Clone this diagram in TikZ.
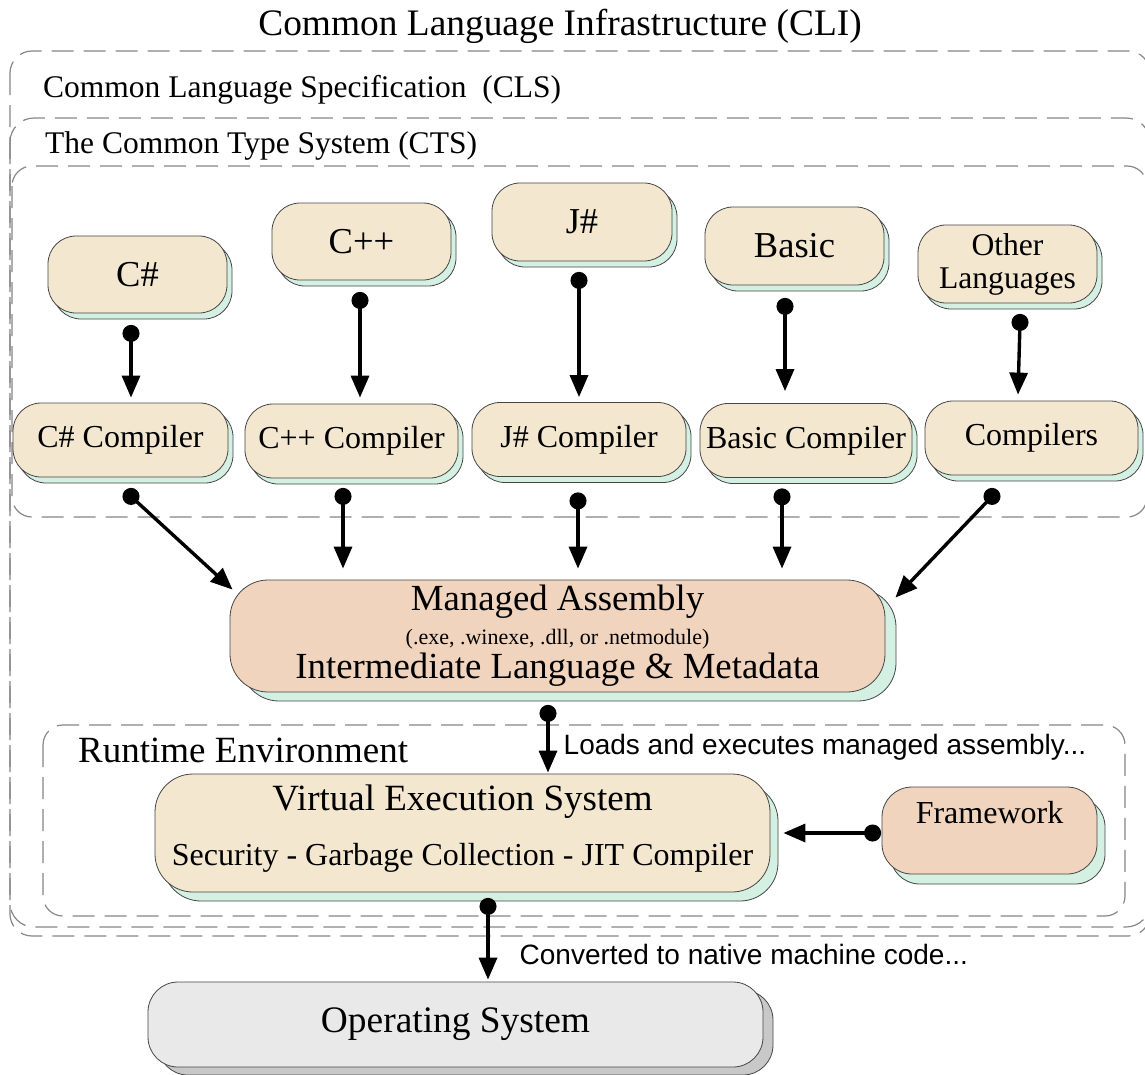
\documentclass[tikz,border=0pt]{standalone}
\usepackage{fontspec}
\setmainfont{Liberation Serif}
\newfontfamily\sansf{Liberation Sans}
\usetikzlibrary{arrows.meta,calc,shadows}
\definecolor{beige}{RGB}{243,231,208}
\definecolor{mint}{RGB}{211,240,226}
\definecolor{pinkc}{RGB}{241,212,190}
\definecolor{osfill}{RGB}{233,233,233}
\definecolor{osshadow}{RGB}{200,200,200}
\definecolor{bordc}{RGB}{70,70,70}
\definecolor{dashc}{RGB}{135,135,135}
\newcommand\fsz[2]{\fontsize{#1}{#2}\selectfont}
\begin{document}
\begin{tikzpicture}[x=1pt,y=-1pt,
  box/.style={draw=bordc, line width=0.8pt, inner sep=0pt, align=center,
    rounded corners=28pt, fill=beige},
  shad/.style n args={3}{general shadow={shadow xshift=#1pt, shadow yshift=-#2pt,
    fill=#3, draw=bordc, line width=0.8pt}},
  lang/.style={box, shad={5}{6}{mint}, minimum width=179pt, minimum height=77pt,
    font=\fsz{36.5}{40}},
  comp/.style={box, shad={5}{6}{mint}, minimum height=74pt, font=\fsz{32}{36}},
  grp/.style={draw=dashc, line width=1.2pt, dash pattern=on 22pt off 10pt},
  conn/.style={line width=3.4pt, {Circle[length=17pt]}-{Triangle[length=22pt,width=18pt]},
    shorten <=-8.5pt},
  lbl/.style={inner sep=0pt, anchor=base west}
]
\useasboundingbox (0,0) rectangle (1145,1074);
\fill[white] (0,0) rectangle (1145,1074);

% dashed containers
\draw[grp, rounded corners=22pt] (10,51) rectangle (1150,936);
\draw[grp, rounded corners=24pt] (10,118) rectangle (1150,927);
\draw[grp, rounded corners=20pt] (12,166) rectangle (1147,517);
\draw[grp, rounded corners=20pt] (43,725) rectangle (1125,916);

% texts of containers
\node[inner sep=0pt, anchor=base, font=\fsz{37.4}{40}] (cli) at (560,35) {Common Language Infrastructure (CLI)};
\node[lbl, font=\fsz{31.5}{34}] (cls) at (43,97) {Common Language Specification~ (CLS)};
\node[lbl, font=\fsz{31.5}{34}] (cts) at (45,153) {The Common Type System (CTS)};
\node[lbl, font=\fsz{37}{40}] (rt) at (78,762) {Runtime Environment};

% languages
\node[lang] (cs)  at (137.5,274.5) {C\#};
\node[lang] (cpp) at (361.5,241.5) {C++};
\node[lang, minimum width=180pt, minimum height=78pt] (js) at (582,222) {J\#};
\node[lang, minimum height=78pt] (bas) at (794.5,246) {Basic};
\node[lang, minimum height=78pt, font=\fsz{31.6}{33}] (oth) at (1007.5,264) {Other\\Languages};

% compilers
\node[comp, minimum width=215pt] (csc)  at (120.5,440) {C\# Compiler};
\node[comp, minimum width=213pt] (cppc) at (351.5,441) {C++ Compiler};
\node[comp, minimum width=214pt] (jsc)  at (579,439.5) {J\# Compiler};
\node[comp, minimum width=212pt] (basc) at (806,440.5) {Basic Compiler};
\node[comp, minimum width=213pt] (othc) at (1031.5,438) {Compilers};

% managed assembly
\node[box, shad={11}{9}{mint}, fill=pinkc, rounded corners=38pt,
  minimum width=655pt, minimum height=112pt, font=\fsz{36.8}{34}] (ma) at (557.5,636)
  {Managed Assembly\\{\fsz{22}{24}(.exe, .winexe, .dll, or .netmodule)}\\Intermediate Language \& Metadata};

% VES
\node[box, shad={8}{9}{mint}, rounded corners=38pt,
  minimum width=615pt, minimum height=118pt, font=\fsz{37}{55}] (ves) at (462.5,833)
  {Virtual Execution System\\{\fsz{32}{36}Security - Garbage Collection - JIT Compiler}\\[-39pt]{}};

% Framework
\node[box, shad={8}{10}{mint}, fill=pinkc, rounded corners=30pt,
  minimum width=215pt, minimum height=87pt, font=\fsz{32}{36}] (fw) at (989.5,830.5)
  {Framework\\[0pt]{}};

% OS
\node[box, shad={10}{8}{osshadow}, fill=osfill, rounded corners=30pt,
  minimum width=615pt, minimum height=85pt, font=\fsz{37.4}{40}] (os) at (455.5,1024.5)
  {Operating System};

% connectors
\draw[conn] ($(cs.south)+(-6.5,20)$) -- ($(csc.north)+(10.5,-5)$);
\draw[conn] ($(cpp.south)+(-1.5,20)$) -- ($(cppc.north)+(8.5,-6)$);
\draw[conn] ($(js.south)+(-3,19)$) -- ($(jsc.north)+(0,-5)$);
\draw[conn] ($(bas.south)+(-9.5,21)$) -- ($(basc.north)+(-21,-12)$);
\draw[conn] ($(oth.south)+(12.5,19)$) -- ($(othc.north)+(-13.5,-6)$);

\draw[conn] ($(csc.south)+(10.5,19)$) -- ($(ma.north west)+(3,10)$);
\draw[conn] ($(cppc.south)+(-8.5,18)$) -- ($(ma.north)+(-214.5,-11)$);
\draw[conn] ($(jsc.south)+(-1,24)$) -- ($(ma.north)+(20.5,-11)$);
\draw[conn] ($(basc.south)+(-24,19)$) -- ($(ma.north)+(224.5,-11)$);
\draw[conn] ($(othc.south)+(-39.5,21)$) -- ($(ma.north east)+(10,18)$);

\draw[conn] ($(ma.south)+(-9.5,21)$) -- ($(ves.north)+(85.5,-1)$)
  node[lbl, font=\sansf\fsz{28}{30}] (ld) at (562,754) {Loads and executes managed assembly...};
\draw[conn] ($(fw.west)+(-9,2.5)$) -- ($(ves.east)+(13,0)$);
\draw[conn] ($(ves.south)+(25.5,14)$) -- ($(os.north)+(32.5,-2)$)
  node[lbl, font=\sansf\fsz{28}{30}] (cv) at (518,964) {Converted to native machine code...};
\end{tikzpicture}
\end{document}
